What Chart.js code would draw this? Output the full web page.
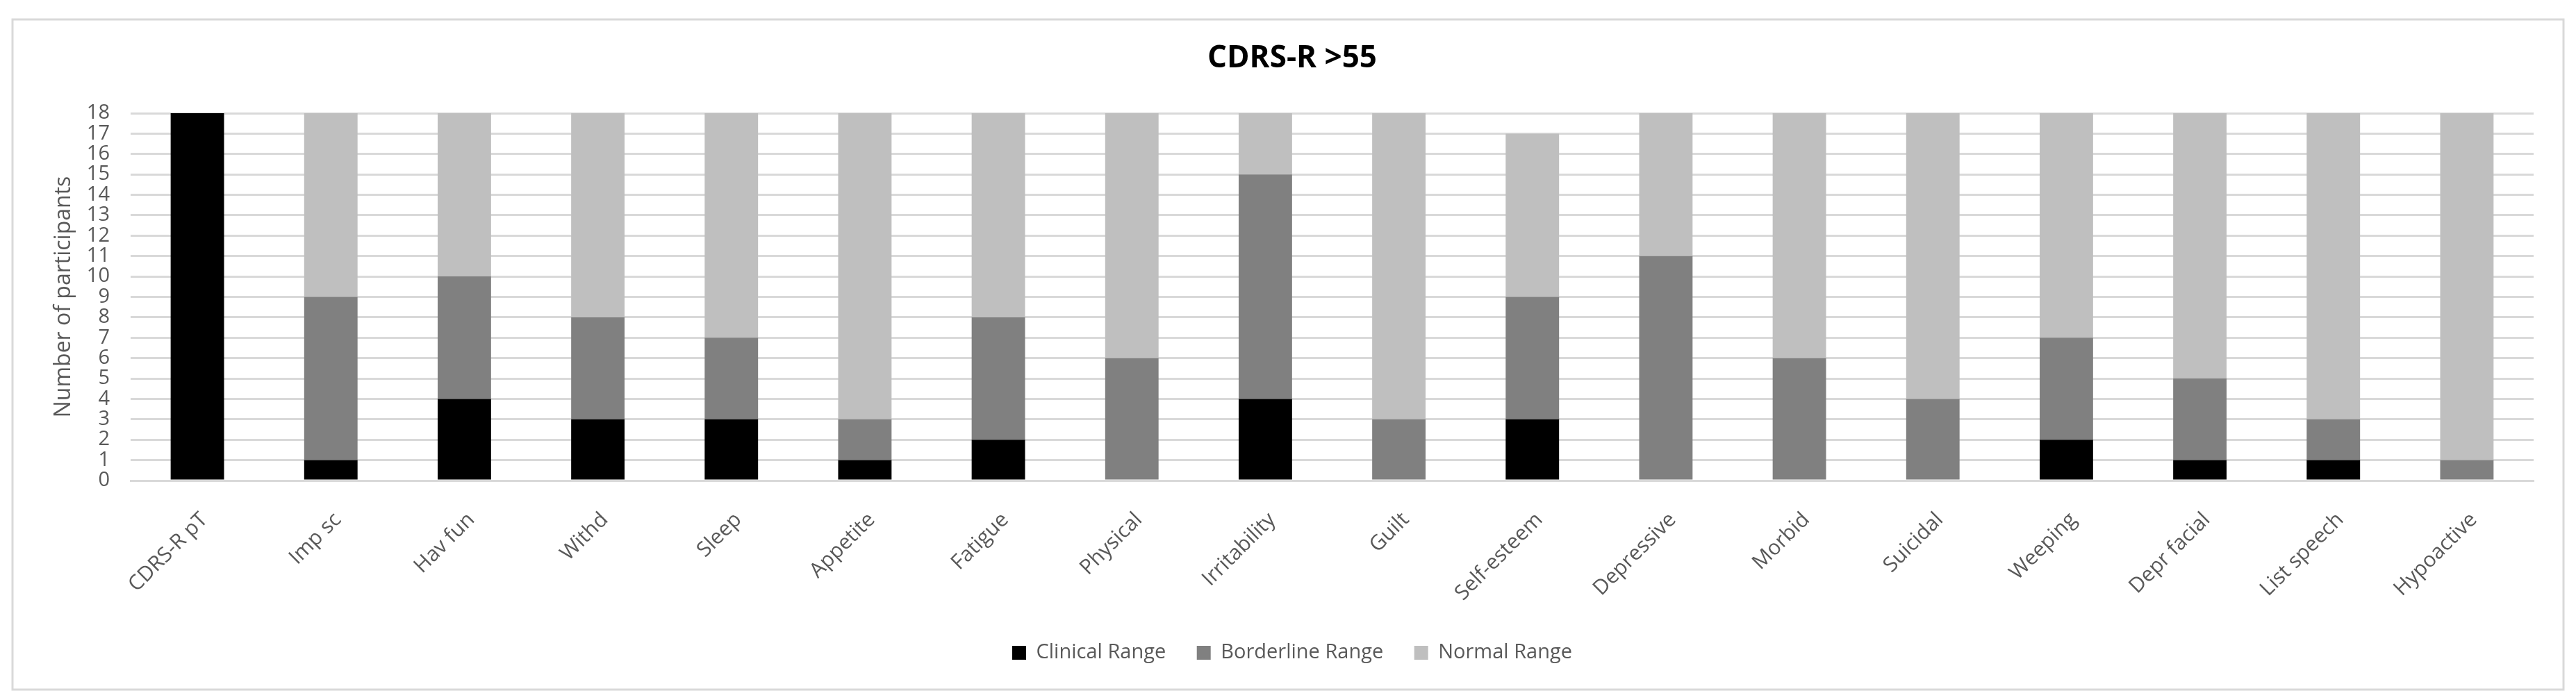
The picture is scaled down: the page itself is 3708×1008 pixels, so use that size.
<!DOCTYPE html>
<html>
<head>
<meta charset="utf-8">
<script src="https://cdn.jsdelivr.net/npm/chart.js@4.4.1/dist/chart.umd.min.js"></script>
<style>
  html, body { margin: 0; padding: 0; background: #ffffff; }
  canvas { display: block; }
</style>
</head>
<body>
<canvas id="grafico" width="3708" height="1008"></canvas>
<script>
// categorias y valores
const categories = ['CDRS-R pT', 'Imp sc', 'Hav fun', 'Withd', 'Sleep', 'Appetite', 'Fatigue', 'Physical',
  'Irritability', 'Guilt', 'Self-esteem', 'Depressive', 'Morbid', 'Suicidal', 'Weeping', 'Depr facial',
  'List speech', 'Hypoactive'];
const clinical   = [18, 1, 4, 3, 3, 1, 2, 0, 4, 0, 3, 0, 0, 0, 2, 1, 1, 0];
const borderline = [0, 8, 6, 5, 4, 2, 6, 6, 11, 3, 6, 11, 6, 4, 5, 4, 2, 1];
const normal     = [0, 9, 8, 10, 11, 15, 10, 12, 3, 15, 8, 7, 12, 14, 11, 13, 15, 17];
const yMin = 0;
const yMax = 18;
const yStep = 1;

Chart.defaults.font.family = "'Open Sans', sans-serif";
Chart.defaults.color = '#595959';

// marco gris alrededor del grafico
const marco = {
  id: 'marco',
  beforeDraw(chart) {
    const ctx = chart.ctx;
    ctx.save();
    ctx.fillStyle = '#ffffff';
    ctx.fillRect(0, 0, chart.width, chart.height);
    ctx.strokeStyle = '#d9d9d9';
    ctx.lineWidth = 3;
    ctx.strokeRect(18, 28, 3672, 965);
    ctx.restore();
  }
};

const ctx = document.getElementById('grafico').getContext('2d');
new Chart(ctx, {
  type: 'bar',
  data: {
    labels: categories,
    datasets: [
      { label: 'Clinical Range', data: clinical, backgroundColor: '#000000' },
      { label: 'Borderline Range', data: borderline, backgroundColor: '#808080' },
      { label: 'Normal Range', data: normal, backgroundColor: '#bfbfbf' }
    ]
  },
  options: {
    responsive: false,
    animation: false,
    devicePixelRatio: 1,
    categoryPercentage: 1,
    barPercentage: 0.4,
    layout: { padding: { top: 57.6, left: 73, right: 61, bottom: 43.5 } },
    plugins: {
      title: {
        display: true,
        text: 'CDRS-R >55',
        color: '#000000',
        font: { size: 44, weight: 'bold' },
        padding: { top: 0, bottom: 52.6 }
      },
      legend: {
        position: 'bottom',
        labels: {
          boxWidth: 20,
          boxHeight: 20,
          padding: 44.5,
          color: '#595959',
          font: { size: 29 }
        }
      },
      tooltip: { enabled: false }
    },
    scales: {
      x: {
        stacked: true,
        grid: { display: false },
        border: { color: '#d9d9d9', width: 3 },
        ticks: {
          autoSkip: false,
          minRotation: 45,
          maxRotation: 45,
          padding: 31,
          labelOffset: 10,
          font: { size: 30 }
        },
        afterFit(scale) { scale.height = 189; }
      },
      y: {
        stacked: true,
        min: yMin,
        max: yMax,
        grid: { color: '#d9d9d9', lineWidth: 3, drawTicks: false },
        border: { display: false },
        ticks: { stepSize: yStep, autoSkip: false, padding: 30, font: { size: 29, lineHeight: 1 } },
        title: {
          display: true,
          text: 'Number of participants',
          padding: 0,
          font: { size: 32 }
        },
        afterFit(scale) { scale.width = 115; }
      }
    }
  },
  plugins: [marco]
});
</script>
</body>
</html>
